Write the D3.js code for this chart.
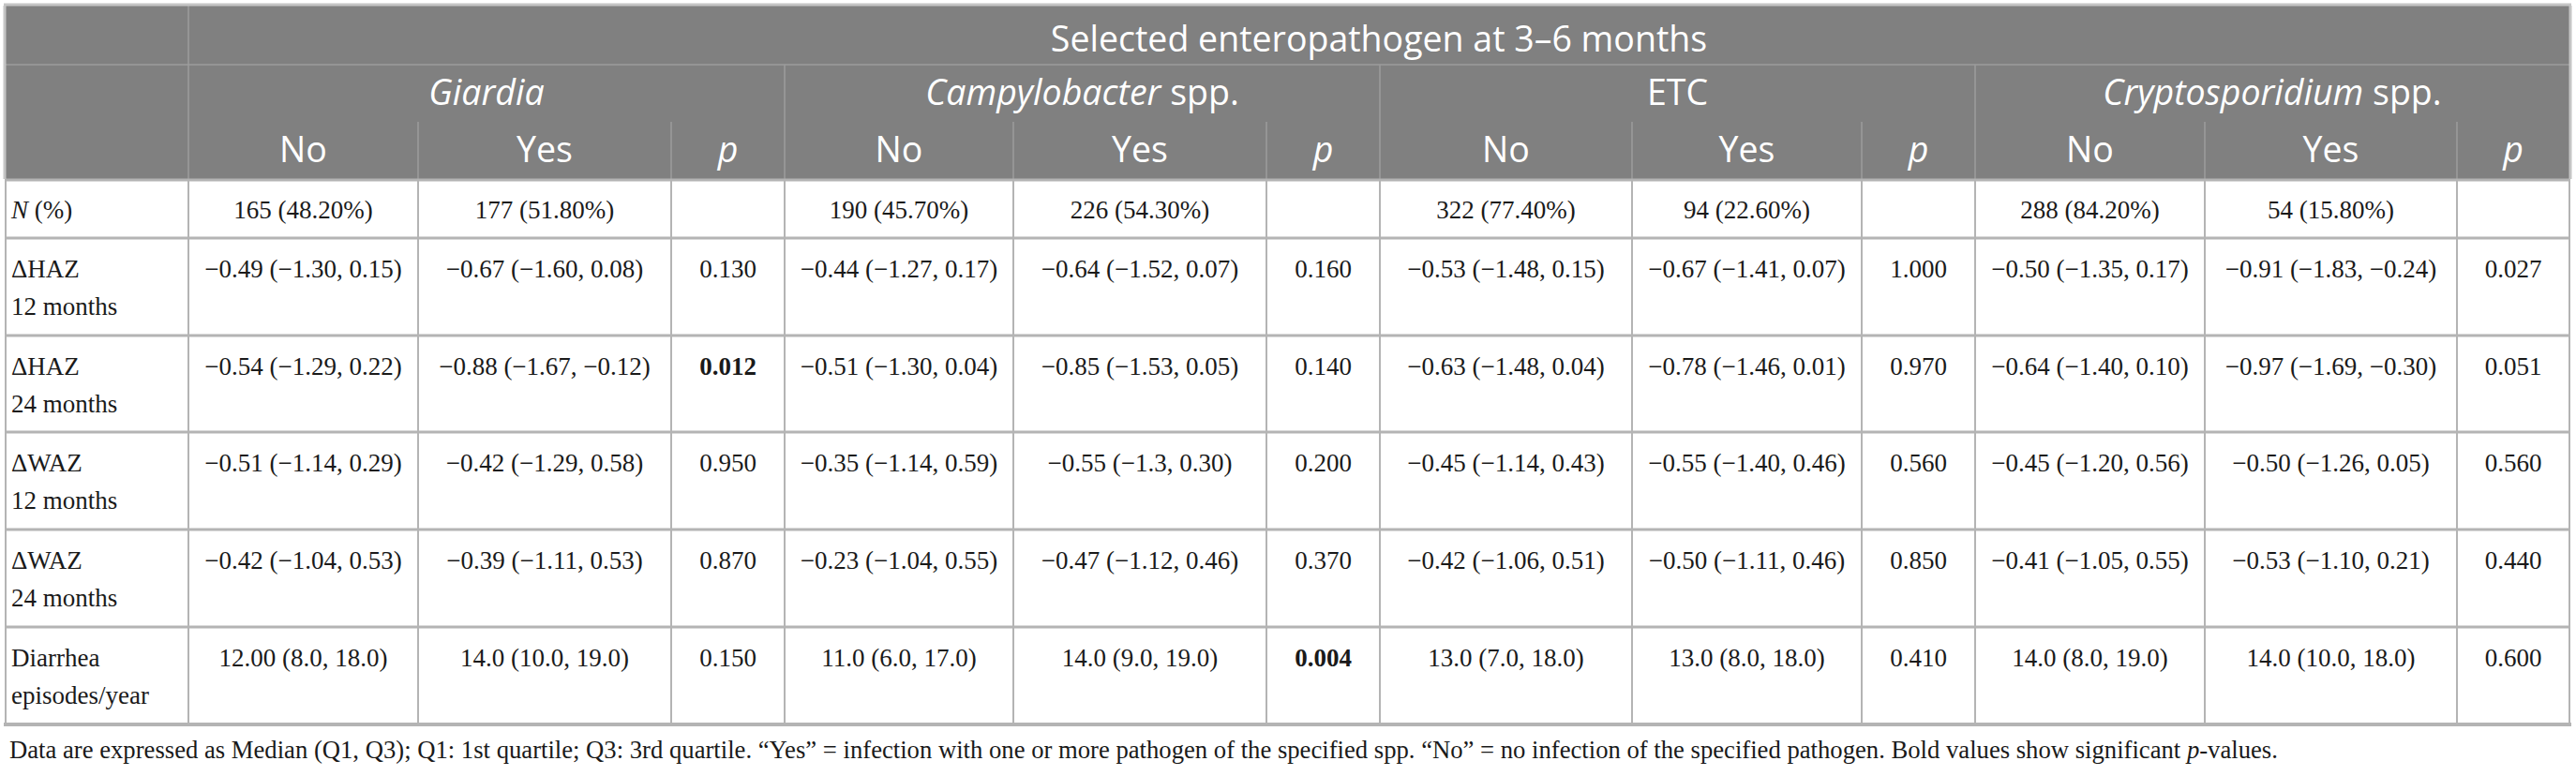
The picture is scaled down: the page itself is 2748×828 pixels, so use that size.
<!DOCTYPE html>
<html><head><meta charset="utf-8">
<script src="https://cdn.jsdelivr.net/npm/d3@7/dist/d3.min.js"></script>
<style>
html,body{margin:0;padding:0;background:#fff;}
svg{display:block;}
</style></head>
<body>
<svg id="chart"></svg>
<script>
// ---------- data ----------
const spanTitle = "Selected enteropathogen at 3\u20136 months";
const groupItalic = ["Giardia", "Campylobacter", "", "Cryptosporidium"];
const groupPlain  = ["", " spp.", "ETC", " spp."];
const subCols = ["No", "Yes", "p"];
const rowLabels = [["N (%)"], ["\u0394HAZ", "12 months"], ["\u0394HAZ", "24 months"], ["\u0394WAZ", "12 months"], ["\u0394WAZ", "24 months"], ["Diarrhea", "episodes/year"]];
const rowN = ["165 (48.20%)", "177 (51.80%)", "", "190 (45.70%)", "226 (54.30%)", "", "322 (77.40%)", "94 (22.60%)", "", "288 (84.20%)", "54 (15.80%)", ""];
const rowHAZ12 = ["\u22120.49 (\u22121.30, 0.15)", "\u22120.67 (\u22121.60, 0.08)", "0.130", "\u22120.44 (\u22121.27, 0.17)", "\u22120.64 (\u22121.52, 0.07)", "0.160", "\u22120.53 (\u22121.48, 0.15)", "\u22120.67 (\u22121.41, 0.07)", "1.000", "\u22120.50 (\u22121.35, 0.17)", "\u22120.91 (\u22121.83, \u22120.24)", "0.027"];
const rowHAZ24 = ["\u22120.54 (\u22121.29, 0.22)", "\u22120.88 (\u22121.67, \u22120.12)", "0.012", "\u22120.51 (\u22121.30, 0.04)", "\u22120.85 (\u22121.53, 0.05)", "0.140", "\u22120.63 (\u22121.48, 0.04)", "\u22120.78 (\u22121.46, 0.01)", "0.970", "\u22120.64 (\u22121.40, 0.10)", "\u22120.97 (\u22121.69, \u22120.30)", "0.051"];
const rowWAZ12 = ["\u22120.51 (\u22121.14, 0.29)", "\u22120.42 (\u22121.29, 0.58)", "0.950", "\u22120.35 (\u22121.14, 0.59)", "\u22120.55 (\u22121.3, 0.30)", "0.200", "\u22120.45 (\u22121.14, 0.43)", "\u22120.55 (\u22121.40, 0.46)", "0.560", "\u22120.45 (\u22121.20, 0.56)", "\u22120.50 (\u22121.26, 0.05)", "0.560"];
const rowWAZ24 = ["\u22120.42 (\u22121.04, 0.53)", "\u22120.39 (\u22121.11, 0.53)", "0.870", "\u22120.23 (\u22121.04, 0.55)", "\u22120.47 (\u22121.12, 0.46)", "0.370", "\u22120.42 (\u22121.06, 0.51)", "\u22120.50 (\u22121.11, 0.46)", "0.850", "\u22120.41 (\u22121.05, 0.55)", "\u22120.53 (\u22121.10, 0.21)", "0.440"];
const rowDiarrhea = ["12.00 (8.0, 18.0)", "14.0 (10.0, 19.0)", "0.150", "11.0 (6.0, 17.0)", "14.0 (9.0, 19.0)", "0.004", "13.0 (7.0, 18.0)", "13.0 (8.0, 18.0)", "0.410", "14.0 (8.0, 19.0)", "14.0 (10.0, 18.0)", "0.600"];
const boldCells = [[2, 2], [5, 5]]; // [row index, column index] of significant p-values
const footnote = ["Data are expressed as Median (Q1, Q3); Q1: 1st quartile; Q3: 3rd quartile. \u201cYes\u201d = infection with one or more pathogen of the specified spp. \u201cNo\u201d = no infection of the specified pathogen. Bold values show significant ", "p", "-values."];

const rows = [rowN, rowHAZ12, rowHAZ24, rowWAZ12, rowWAZ24, rowDiarrhea];

// ---------- layout ----------
const W = 2748, H = 828;
const colEdges = [6, 201, 446, 716, 837, 1081, 1351, 1472, 1741, 1986, 2107, 2352, 2621, 2741];
const rowEdges = [6, 69, 130, 191, 253, 357, 460, 564, 668, 772];
const SERIF = "'Liberation Serif'";
const SANS = "'Open Sans'";
const headBg = "#808080", headLine = "#9d9d9d", bodyLine = "#b4b4b4";

const svg = d3.select("#chart").attr("width", W).attr("height", H);

const nCols = colEdges.length - 1;
const xEdge = d3.scaleOrdinal().domain(d3.range(colEdges.length)).range(colEdges);
const yEdge = d3.scaleOrdinal().domain(d3.range(rowEdges.length)).range(rowEdges);
const xMid = i => (xEdge(i) + xEdge(i + 1)) / 2;
const groupIdx = d3.range(groupItalic.length);
const gx0 = g => xEdge(1 + g * 3), gx1 = g => xEdge(4 + g * 3);

// header background
svg.append("rect").attr("x", xEdge(0)).attr("y", yEdge(0))
  .attr("width", xEdge(nCols) - xEdge(0)).attr("height", yEdge(3) - yEdge(0)).attr("fill", headBg);

// header lines
const hl = svg.append("g").attr("stroke", headLine).attr("stroke-width", 1.5);
hl.append("line").attr("x1", xEdge(0)).attr("x2", xEdge(nCols)).attr("y1", yEdge(1)).attr("y2", yEdge(1));
hl.append("line").attr("x1", xEdge(1)).attr("x2", xEdge(1)).attr("y1", yEdge(0)).attr("y2", yEdge(3));
hl.selectAll(".gsep").data(groupIdx.slice(1)).join("line")
  .attr("x1", g => gx0(g)).attr("x2", g => gx0(g)).attr("y1", yEdge(1)).attr("y2", yEdge(3));
hl.selectAll(".ssep").data(groupIdx.flatMap(g => [2 + g * 3, 3 + g * 3])).join("line")
  .attr("x1", i => xEdge(i)).attr("x2", i => xEdge(i)).attr("y1", yEdge(2)).attr("y2", yEdge(3));

// header text
const ht = svg.append("g").attr("fill", "#fff").attr("font-size", 37.5).attr("text-anchor", "middle");
ht.append("text").style("font-family", SANS).attr("x", (xEdge(1) + xEdge(nCols)) / 2).attr("y", yEdge(0) + 49).text(spanTitle);
groupIdx.forEach(g => {
  const t = ht.append("text").style("font-family", SANS).attr("x", (gx0(g) + gx1(g)) / 2).attr("y", yEdge(1) + 43);
  if (groupItalic[g]) t.append("tspan").attr("font-style", "italic").text(groupItalic[g]);
  if (groupPlain[g]) t.append("tspan").text(groupPlain[g]);
});
d3.range(1, nCols).forEach(i => {
  const s = subCols[(i - 1) % 3];
  ht.append("text").style("font-family", SANS).attr("x", xMid(i)).attr("y", yEdge(2) + 43)
    .attr("font-style", s === "p" ? "italic" : "normal").text(s);
});

// body lines
const bl = svg.append("g").attr("stroke", bodyLine);
d3.range(3, rowEdges.length - 1).forEach(r => {
  bl.append("line").attr("x1", xEdge(0)).attr("x2", xEdge(nCols)).attr("y1", yEdge(r) + 1).attr("y2", yEdge(r) + 1).attr("stroke-width", 3);
});
d3.range(0, nCols + 1).forEach(i => {
  bl.append("line").attr("x1", xEdge(i)).attr("x2", xEdge(i)).attr("y1", yEdge(3)).attr("y2", yEdge(rowEdges.length - 1)).attr("stroke-width", 2);
});
// outer borders
bl.append("line").attr("x1", xEdge(0) - 2).attr("x2", xEdge(nCols) + 2).attr("y1", yEdge(rowEdges.length - 1) + 1).attr("y2", yEdge(rowEdges.length - 1) + 1).attr("stroke-width", 4);
bl.append("line").attr("x1", xEdge(0) - 2).attr("x2", xEdge(nCols) + 2).attr("y1", yEdge(0) - 1).attr("y2", yEdge(0) - 1).attr("stroke-width", 3).attr("stroke", "#c4c4c4");
bl.append("line").attr("x1", xEdge(0) - 1).attr("x2", xEdge(0) - 1).attr("y1", yEdge(0)).attr("y2", yEdge(3)).attr("stroke-width", 3).attr("stroke", "#c4c4c4");
bl.append("line").attr("x1", xEdge(nCols) + 1).attr("x2", xEdge(nCols) + 1).attr("y1", yEdge(0)).attr("y2", yEdge(3)).attr("stroke-width", 3).attr("stroke", "#c4c4c4");

// body text
const bt = svg.append("g").attr("font-size", 27).attr("fill", "#1a1a1a");
rows.forEach((vals, r) => {
  const top = yEdge(3 + r);
  const base = top + (r === 0 ? 42 : 43);
  rowLabels[r].forEach((line, k) => {
    const t = bt.append("text").style("font-family", SERIF).attr("x", xEdge(0) + 6).attr("y", base + k * 40);
    if (r === 0) {
      t.append("tspan").attr("font-style", "italic").text("N");
      t.append("tspan").text(line.slice(1));
    } else t.text(line);
  });
  vals.forEach((v, c) => {
    if (!v) return;
    const isBold = boldCells.some(b => b[0] === r && b[1] === c);
    bt.append("text").style("font-family", SERIF).attr("x", xMid(c + 1)).attr("y", base).attr("text-anchor", "middle")
      .attr("font-weight", isBold ? "bold" : "normal").text(v);
  });
});

// footnote
const fn = svg.append("text").style("font-family", SERIF).attr("x", 10).attr("y", 809).attr("font-size", 25).attr("fill", "#1a1a1a");
fn.append("tspan").text(footnote[0]);
fn.append("tspan").attr("font-style", "italic").text(footnote[1]);
fn.append("tspan").text(footnote[2]);
const fw = fn.node().getComputedTextLength();
if (fw > 0) fn.attr("font-size", Math.max(20, Math.min(28, 25 * 2422 / fw)));
</script>
</body></html>
